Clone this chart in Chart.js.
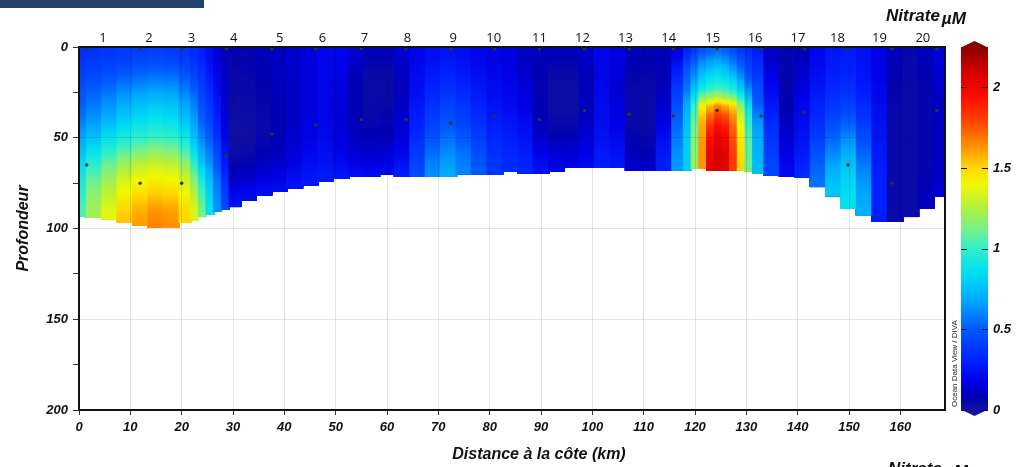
<!DOCTYPE html>
<html lang="fr">
<head>
<meta charset="utf-8">
<title>Nitrate - section côtière</title>
<script src="https://cdn.jsdelivr.net/npm/chart.js@4.4.1/dist/chart.umd.min.js"></script>
<style>
  body { margin: 0; background: #fff; }
  #wrap { position: relative; width: 1025px; height: 467px; overflow: hidden; }
  #myChart { display: block; }
  #topBar { position: absolute; left: 0; top: 0; width: 204px; height: 8px; background: #23416f; }
  .unit { position: absolute; font: italic bold 17px "Liberation Sans", Arial, sans-serif; color: #111; white-space: nowrap; line-height: 20px; }
  .unit span { position: relative; top: 3px; margin-left: 2px; }
</style>
</head>
<body>
<div id="wrap">
  <canvas id="myChart" width="1025" height="467"></canvas>
  <div id="topBar"></div>
  <div class="unit" style="left:886px; top:6px;">Nitrate<span>µM</span></div>
  <div class="unit" style="left:888px; top:459px;">Nitrate<span>µM</span></div>
</div>
<script>
// Stations along the section (numbers on top) and the sampled depths
const stationNames = ['1', '2', '3', '4', '5', '6', '7', '8', '9', '10', '11', '12', '13', '14', '15', '16', '17', '18', '19', '20'];
const stationKm = [1.5, 11.9, 20.0, 28.7, 37.6, 46.1, 55.0, 63.7, 72.4, 81.0, 89.7, 98.5, 107.2, 115.8, 124.3, 132.9, 141.3, 149.8, 158.4, 167.1];
const stationTickKm = [0.5, 9.9, 18.6, 27.3, 36.7, 45.5, 54.1, 62.9, 72.3, 80.6, 90.0, 98.8, 107.6, 116.5, 125.5, 134.2, 143.0, 151.1, 159.7, 168.6];
const surfaceSampleDepth = 1;
const deepSampleDepth = [65, 75, 75, 60, 48, 43, 40, 40, 42, 38, 40, 35, 37, 38, 35, 38, 36, 65, 75, 35];

// Gridded field: one profile every 3 km (1.5 km where it changes fast),
// 5 m cells from the surface down to the sea floor
const columnKm = [0, 3, 6, 9, 12, 15, 18, 21, 22.5, 24, 25.5, 27, 28.5, 30, 33, 36, 39, 42, 45, 48, 51, 54, 57, 60, 63, 66, 69, 72, 75, 78, 81, 84, 87, 90, 93, 96, 99, 102, 105, 108, 111, 114, 117, 118.5, 120, 121.5, 123, 124.5, 126, 127.5, 129, 130.5, 132, 135, 138, 141, 144, 147, 150, 153, 156, 159, 162, 165, 168];
const bottomDepth = [93.5, 94, 94.8, 96.8, 98.3, 99.4, 99.4, 96.8, 95.5, 93.5, 92.2, 90.7, 89.4, 88, 84.3, 81.5, 79.7, 77.8, 76, 73.8, 72.5, 71.4, 71.4, 70, 71.4, 71.4, 71.4, 71.4, 70, 70, 70, 68.3, 69.6, 69.6, 68.3, 66.5, 66.5, 66.5, 66.5, 68, 68, 68, 68, 68, 67, 67, 68, 68, 68, 68, 68, 68.5, 69.6, 70.5, 71.4, 72, 77, 82, 89, 92.6, 96.2, 96, 93.5, 89, 82];
const cellTopDepth = [0, 5, 10, 15, 20, 25, 30, 35, 40, 45, 50, 55, 60, 65, 70, 75, 80, 85, 90, 95];
const nitrateProfiles = [
  [0.35, 0.37, 0.4, 0.43, 0.46, 0.49, 0.52, 0.55, 0.6, 0.65, 0.7, 0.76, 0.82, 0.88, 0.93, 0.97, 1.0, 1.03, 1.05],
  [0.36, 0.39, 0.42, 0.46, 0.5, 0.54, 0.58, 0.62, 0.67, 0.73, 0.8, 0.88, 0.95, 1.02, 1.08, 1.13, 1.17, 1.2, 1.22],
  [0.37, 0.4, 0.44, 0.49, 0.54, 0.59, 0.64, 0.69, 0.75, 0.82, 0.9, 0.98, 1.06, 1.14, 1.2, 1.26, 1.3, 1.34, 1.37],
  [0.39, 0.42, 0.47, 0.53, 0.59, 0.65, 0.71, 0.77, 0.83, 0.9, 0.98, 1.07, 1.16, 1.25, 1.32, 1.38, 1.43, 1.48, 1.52, 1.54],
  [0.4, 0.44, 0.5, 0.56, 0.63, 0.7, 0.76, 0.82, 0.88, 0.95, 1.03, 1.13, 1.23, 1.32, 1.39, 1.44, 1.5, 1.55, 1.59, 1.61],
  [0.41, 0.45, 0.51, 0.58, 0.65, 0.72, 0.79, 0.85, 0.91, 0.98, 1.07, 1.17, 1.27, 1.35, 1.42, 1.48, 1.54, 1.6, 1.64, 1.66],
  [0.4, 0.44, 0.5, 0.57, 0.64, 0.71, 0.77, 0.83, 0.89, 0.96, 1.05, 1.15, 1.25, 1.33, 1.4, 1.46, 1.52, 1.58, 1.62, 1.63],
  [0.37, 0.4, 0.45, 0.51, 0.57, 0.63, 0.69, 0.74, 0.8, 0.87, 0.95, 1.04, 1.14, 1.23, 1.31, 1.37, 1.42, 1.47, 1.5, 1.5],
  [0.33, 0.36, 0.4, 0.45, 0.5, 0.55, 0.6, 0.64, 0.68, 0.73, 0.8, 0.87, 0.96, 1.05, 1.14, 1.22, 1.28, 1.33, 1.35, 1.35],
  [0.3, 0.32, 0.35, 0.38, 0.41, 0.44, 0.47, 0.5, 0.54, 0.58, 0.63, 0.69, 0.76, 0.84, 0.92, 0.99, 1.05, 1.1, 1.12],
  [0.22, 0.24, 0.26, 0.29, 0.32, 0.35, 0.38, 0.41, 0.44, 0.48, 0.52, 0.57, 0.62, 0.68, 0.74, 0.79, 0.83, 0.86, 0.88],
  [0.15, 0.16, 0.18, 0.2, 0.22, 0.24, 0.26, 0.28, 0.31, 0.35, 0.39, 0.43, 0.47, 0.51, 0.55, 0.58, 0.61, 0.63, 0.64],
  [0.1, 0.1, 0.11, 0.12, 0.13, 0.14, 0.15, 0.16, 0.17, 0.19, 0.21, 0.24, 0.27, 0.31, 0.35, 0.39, 0.42, 0.44],
  [0.07, 0.06, 0.05, 0.05, 0.04, 0.04, 0.03, 0.03, 0.02, 0.02, 0.02, 0.03, 0.05, 0.08, 0.12, 0.17, 0.22, 0.25],
  [0.07, 0.06, 0.06, 0.05, 0.05, 0.04, 0.04, 0.03, 0.03, 0.02, 0.03, 0.04, 0.06, 0.09, 0.13, 0.18, 0.22],
  [0.09, 0.08, 0.08, 0.07, 0.07, 0.06, 0.06, 0.05, 0.05, 0.05, 0.06, 0.08, 0.1, 0.13, 0.17, 0.21, 0.24],
  [0.11, 0.1, 0.1, 0.1, 0.09, 0.09, 0.08, 0.08, 0.08, 0.08, 0.09, 0.1, 0.12, 0.15, 0.19, 0.22],
  [0.13, 0.13, 0.13, 0.12, 0.12, 0.12, 0.12, 0.12, 0.12, 0.13, 0.14, 0.15, 0.17, 0.2, 0.23, 0.25],
  [0.16, 0.16, 0.16, 0.16, 0.16, 0.16, 0.16, 0.16, 0.17, 0.18, 0.19, 0.2, 0.22, 0.24, 0.26, 0.27],
  [0.2, 0.2, 0.2, 0.2, 0.2, 0.2, 0.2, 0.2, 0.2, 0.21, 0.22, 0.23, 0.24, 0.26, 0.27],
  [0.2, 0.19, 0.18, 0.17, 0.16, 0.16, 0.15, 0.15, 0.15, 0.16, 0.17, 0.19, 0.21, 0.24, 0.26],
  [0.14, 0.12, 0.1, 0.09, 0.08, 0.08, 0.08, 0.08, 0.09, 0.1, 0.12, 0.14, 0.17, 0.21, 0.24],
  [0.1, 0.07, 0.05, 0.04, 0.04, 0.04, 0.04, 0.05, 0.06, 0.08, 0.1, 0.13, 0.16, 0.2, 0.23],
  [0.1, 0.07, 0.05, 0.04, 0.04, 0.04, 0.05, 0.06, 0.07, 0.09, 0.11, 0.14, 0.17, 0.21],
  [0.15, 0.13, 0.11, 0.1, 0.1, 0.1, 0.11, 0.12, 0.13, 0.15, 0.17, 0.2, 0.23, 0.27, 0.3],
  [0.2, 0.2, 0.21, 0.22, 0.23, 0.24, 0.26, 0.28, 0.3, 0.32, 0.35, 0.38, 0.41, 0.44, 0.46],
  [0.23, 0.24, 0.26, 0.28, 0.3, 0.33, 0.36, 0.39, 0.42, 0.46, 0.5, 0.54, 0.58, 0.61, 0.63],
  [0.25, 0.27, 0.29, 0.32, 0.35, 0.38, 0.42, 0.45, 0.49, 0.53, 0.57, 0.61, 0.65, 0.68, 0.7],
  [0.22, 0.24, 0.26, 0.28, 0.31, 0.34, 0.37, 0.4, 0.43, 0.47, 0.51, 0.55, 0.58, 0.6],
  [0.2, 0.21, 0.22, 0.24, 0.26, 0.28, 0.3, 0.33, 0.36, 0.39, 0.42, 0.45, 0.48, 0.5],
  [0.19, 0.19, 0.2, 0.21, 0.22, 0.23, 0.25, 0.27, 0.29, 0.31, 0.33, 0.35, 0.37, 0.38],
  [0.17, 0.17, 0.18, 0.19, 0.2, 0.21, 0.22, 0.24, 0.26, 0.28, 0.3, 0.32, 0.33, 0.34],
  [0.12, 0.11, 0.12, 0.14, 0.16, 0.17, 0.18, 0.2, 0.22, 0.24, 0.26, 0.28, 0.3, 0.31],
  [0.1, 0.09, 0.08, 0.08, 0.08, 0.08, 0.08, 0.09, 0.1, 0.12, 0.15, 0.18, 0.21, 0.24],
  [0.1, 0.07, 0.05, 0.04, 0.03, 0.03, 0.03, 0.04, 0.05, 0.07, 0.1, 0.13, 0.17, 0.2],
  [0.1, 0.07, 0.05, 0.04, 0.03, 0.03, 0.03, 0.04, 0.05, 0.07, 0.1, 0.13, 0.16, 0.19],
  [0.13, 0.11, 0.1, 0.09, 0.09, 0.09, 0.1, 0.11, 0.12, 0.14, 0.16, 0.18, 0.2, 0.22],
  [0.2, 0.2, 0.2, 0.2, 0.21, 0.21, 0.22, 0.22, 0.23, 0.24, 0.25, 0.27, 0.28, 0.29],
  [0.17, 0.16, 0.15, 0.15, 0.15, 0.15, 0.16, 0.17, 0.18, 0.2, 0.22, 0.24, 0.26, 0.27],
  [0.1, 0.08, 0.07, 0.06, 0.05, 0.05, 0.05, 0.05, 0.05, 0.06, 0.07, 0.09, 0.11, 0.13],
  [0.08, 0.07, 0.06, 0.05, 0.05, 0.04, 0.04, 0.04, 0.04, 0.05, 0.06, 0.08, 0.1, 0.12],
  [0.08, 0.08, 0.08, 0.09, 0.1, 0.11, 0.13, 0.15, 0.18, 0.21, 0.24, 0.26, 0.28, 0.29],
  [0.15, 0.22, 0.28, 0.33, 0.38, 0.42, 0.46, 0.5, 0.53, 0.56, 0.59, 0.62, 0.64, 0.65],
  [0.3, 0.4, 0.48, 0.52, 0.56, 0.63, 0.7, 0.74, 0.76, 0.78, 0.79, 0.8, 0.8, 0.8],
  [0.4, 0.5, 0.58, 0.66, 0.75, 0.88, 1.0, 1.06, 1.1, 1.13, 1.15, 1.17, 1.18, 1.18],
  [0.48, 0.6, 0.7, 0.8, 0.9, 1.12, 1.42, 1.52, 1.58, 1.6, 1.62, 1.63, 1.63, 1.63],
  [0.52, 0.65, 0.76, 0.87, 0.97, 1.2, 1.55, 1.7, 1.82, 1.9, 1.96, 2.0, 2.02, 2.03],
  [0.55, 0.68, 0.8, 0.9, 1.0, 1.25, 1.65, 1.82, 1.93, 2.0, 2.04, 2.07, 2.08, 2.08],
  [0.52, 0.64, 0.75, 0.87, 0.98, 1.2, 1.58, 1.76, 1.88, 1.95, 2.0, 2.03, 2.05, 2.05],
  [0.46, 0.56, 0.66, 0.8, 0.92, 1.12, 1.5, 1.62, 1.7, 1.75, 1.78, 1.8, 1.82, 1.82],
  [0.4, 0.48, 0.55, 0.66, 0.78, 0.95, 1.18, 1.3, 1.38, 1.43, 1.46, 1.48, 1.5, 1.5],
  [0.35, 0.4, 0.43, 0.5, 0.6, 0.72, 0.85, 0.95, 1.0, 1.04, 1.07, 1.08, 1.09, 1.1],
  [0.28, 0.32, 0.35, 0.4, 0.45, 0.48, 0.52, 0.6, 0.65, 0.68, 0.7, 0.72, 0.73, 0.74],
  [0.12, 0.13, 0.15, 0.18, 0.21, 0.24, 0.27, 0.3, 0.33, 0.36, 0.38, 0.4, 0.42, 0.43, 0.44],
  [0.07, 0.06, 0.06, 0.06, 0.06, 0.07, 0.08, 0.09, 0.11, 0.13, 0.15, 0.17, 0.19, 0.21, 0.22],
  [0.08, 0.1, 0.12, 0.14, 0.16, 0.18, 0.2, 0.21, 0.22, 0.24, 0.25, 0.27, 0.29, 0.31, 0.33],
  [0.2, 0.21, 0.22, 0.24, 0.26, 0.28, 0.3, 0.32, 0.35, 0.38, 0.42, 0.46, 0.5, 0.53, 0.55, 0.57],
  [0.26, 0.27, 0.28, 0.3, 0.32, 0.35, 0.38, 0.42, 0.46, 0.5, 0.55, 0.6, 0.65, 0.7, 0.74, 0.77, 0.79],
  [0.28, 0.29, 0.3, 0.32, 0.35, 0.38, 0.42, 0.47, 0.52, 0.58, 0.64, 0.7, 0.75, 0.79, 0.82, 0.84, 0.86, 0.87],
  [0.24, 0.24, 0.25, 0.26, 0.28, 0.3, 0.33, 0.36, 0.4, 0.44, 0.48, 0.52, 0.56, 0.6, 0.63, 0.66, 0.68, 0.7, 0.71],
  [0.18, 0.18, 0.18, 0.19, 0.2, 0.21, 0.22, 0.23, 0.24, 0.25, 0.26, 0.27, 0.28, 0.29, 0.3, 0.3, 0.3, 0.3, 0.29, 0.28],
  [0.1, 0.09, 0.08, 0.07, 0.06, 0.06, 0.05, 0.05, 0.05, 0.05, 0.05, 0.05, 0.05, 0.05, 0.05, 0.05, 0.05, 0.05, 0.05, 0.05],
  [0.06, 0.05, 0.05, 0.05, 0.04, 0.04, 0.04, 0.04, 0.04, 0.04, 0.04, 0.04, 0.04, 0.04, 0.04, 0.04, 0.04, 0.04, 0.04],
  [0.1, 0.09, 0.08, 0.07, 0.06, 0.06, 0.06, 0.06, 0.06, 0.06, 0.06, 0.06, 0.06, 0.06, 0.07, 0.08, 0.09, 0.1],
  [0.16, 0.15, 0.14, 0.13, 0.12, 0.11, 0.1, 0.1, 0.1, 0.1, 0.1, 0.1, 0.1, 0.11, 0.12, 0.13, 0.14]
];

// Axis ticks
const distanceTicks = [0, 10, 20, 30, 40, 50, 60, 70, 80, 90, 100, 110, 120, 130, 140, 150, 160];
const depthTicks = [0, 25, 50, 75, 100, 125, 150, 175, 200];
const colorbarTicks = [0, 0.5, 1, 1.5, 2];

const xMax = 168.7;
const cbMax = 2.25;

// ODV-like palette (value -> colour)
const colorStops = [
  [0.00, '#14149e'], [0.08, '#0000b4'], [0.18, '#0000e6'], [0.30, '#0020ff'],
  [0.50, '#0058ff'], [0.68, '#00a8ff'], [0.86, '#00e0f0'], [1.00, '#30f0c8'],
  [1.12, '#78f088'], [1.25, '#b0f040'], [1.40, '#f0f800'], [1.50, '#ffd800'],
  [1.62, '#ff9800'], [1.78, '#ff4800'], [1.95, '#ff0800'], [2.10, '#d00000'],
  [2.25, '#880000']
];

function hexToRgb(h) {
  return [parseInt(h.slice(1, 3), 16), parseInt(h.slice(3, 5), 16), parseInt(h.slice(5, 7), 16)];
}

function colourFor(v) {
  if (v <= colorStops[0][0]) return colorStops[0][1];
  for (let i = 1; i < colorStops.length; i++) {
    if (v <= colorStops[i][0]) {
      const t = (v - colorStops[i - 1][0]) / (colorStops[i][0] - colorStops[i - 1][0]);
      const a = hexToRgb(colorStops[i - 1][1]);
      const b = hexToRgb(colorStops[i][1]);
      return 'rgb(' + a.map((c, k) => Math.round(c + (b[k] - c) * t)).join(',') + ')';
    }
  }
  return colorStops[colorStops.length - 1][1];
}

// vertical shading of a cell: from the middle of the cell above to the middle of the cell below
function cellFill(context) {
  const d = context.raw;
  if (!d || d.y === null) return 'rgba(0,0,0,0)';
  const prof = nitrateProfiles[d.c];
  const v = prof[d.r];
  const vUp = prof[d.r - 1] ?? v;
  const vDown = prof[d.r + 1] ?? v;
  const top = cellTopDepth[d.r];
  const yScale = context.chart.scales.y;
  const y0 = yScale ? yScale.getPixelForValue(top - 2.5) : NaN;
  const y1 = yScale ? yScale.getPixelForValue(top + 7.5) : NaN;
  if (!isFinite(y0) || !isFinite(y1) || y0 === y1) return colourFor(v);
  const g = context.chart.ctx.createLinearGradient(0, y0, 0, y1);
  for (let k = 0; k <= 8; k++) {
    const t = k / 8;
    const val = t <= 0.5 ? vUp + (v - vUp) * t * 2 : v + (vDown - v) * (t - 0.5) * 2;
    g.addColorStop(t, colourFor(val));
  }
  return g;
}

const boldItalic = { family: 'Liberation Sans', size: 13, style: 'italic', weight: 'bold' };

// one bar dataset per depth row; each cell runs down to the sea floor and the
// deeper rows are drawn over it, so the column ends exactly at the bottom.
// Columns without water at that depth stay in the data as null so the 'flex'
// widths still follow the neighbouring columns. All rows share one stack so
// they sit on top of each other instead of side by side.
const cellDatasets = cellTopDepth.map((top, r) => ({
  type: 'bar',
  stack: 'cells',
  data: columnKm.map((km, c) => {
    const wet = nitrateProfiles[c][r] !== undefined && top < bottomDepth[c];
    return { x: km, y: wet ? [top, bottomDepth[c]] : null, c: c, r: r };
  }),
  backgroundColor: cellFill,
  borderWidth: 0,
  barThickness: 'flex',
  categoryPercentage: 1,
  barPercentage: 1.06,
  order: cellTopDepth.length - r + 1
}));

const sampleDots = stationKm.flatMap((km, i) => [
  { x: km, y: surfaceSampleDepth },
  { x: km, y: deepSampleDepth[i] }
]);

function noPadding(s) {
  s.paddingTop = 0;
  s.paddingBottom = 0;
  s.paddingLeft = 0;
  s.paddingRight = 0;
}

const decorPlugin = {
  id: 'sectionDecor',
  afterDraw(chart) {
    const { ctx, chartArea: a, scales } = chart;
    ctx.save();

    // frame
    ctx.strokeStyle = '#111';
    ctx.lineWidth = 2;
    ctx.strokeRect(a.left, a.top, a.right - a.left, a.bottom - a.top);

    // x title
    ctx.fillStyle = '#111';
    ctx.font = 'italic bold 16px "Liberation Sans"';
    ctx.textAlign = 'center';
    ctx.textBaseline = 'middle';
    ctx.fillText('Distance à la côte (km)', (a.left + a.right) / 2 + 27, chart.height - 12);

    // colour bar
    const cb = scales.cb;
    const x0 = a.right + 16, w = 27;
    const yTop = cb.getPixelForValue(cbMax), yBot = cb.getPixelForValue(0);
    const grad = ctx.createLinearGradient(0, yBot, 0, yTop);
    colorStops.forEach(s => grad.addColorStop(s[0] / cbMax, s[1]));
    ctx.fillStyle = grad;
    ctx.fillRect(x0, yTop, w, yBot - yTop);
    ctx.fillStyle = colorStops[colorStops.length - 1][1];
    ctx.beginPath();
    ctx.moveTo(x0, yTop + 0.5); ctx.lineTo(x0 + w / 2, yTop - 6); ctx.lineTo(x0 + w, yTop + 0.5);
    ctx.fill();
    ctx.fillStyle = colorStops[0][1];
    ctx.beginPath();
    ctx.moveTo(x0, yBot - 0.5); ctx.lineTo(x0 + w / 2, yBot + 6); ctx.lineTo(x0 + w, yBot - 0.5);
    ctx.fill();
    ctx.strokeStyle = '#111';
    ctx.lineWidth = 1;
    colorbarTicks.forEach(v => {
      const y = Math.round(cb.getPixelForValue(v)) + 0.5;
      ctx.beginPath();
      ctx.moveTo(x0, y); ctx.lineTo(x0 + 6, y);
      ctx.moveTo(x0 + w - 6, y); ctx.lineTo(x0 + w, y);
      ctx.stroke();
    });

    // credit
    ctx.translate(a.right + 10, a.bottom - 3);
    ctx.rotate(-Math.PI / 2);
    ctx.fillStyle = '#222';
    ctx.font = '8px "Liberation Sans"';
    ctx.textAlign = 'left';
    ctx.fillText('Ocean Data View / DIVA', 0, 0);
    ctx.restore();
  }
};

new Chart(document.getElementById('myChart'), {
  type: 'bar',
  data: {
    datasets: [
      ...cellDatasets,
      {
        type: 'scatter',
        data: sampleDots,
        pointRadius: 1.7,
        pointBackgroundColor: '#333',
        pointBorderWidth: 0,
        order: 0
      }
    ]
  },
  options: {
    responsive: false,
    animation: false,
    events: [],
    layout: { padding: 0 },
    plugins: {
      legend: { display: false },
      tooltip: { enabled: false }
    },
    scales: {
      x: {
        type: 'linear',
        position: 'bottom',
        min: 0,
        max: xMax,
        offset: false,
        afterFit: s => { s.height = 57; noPadding(s); },
        afterBuildTicks: s => { s.ticks = distanceTicks.map(v => ({ value: v })); },
        grid: { offset: false, z: 1, color: 'rgba(0,0,0,0.11)', tickColor: '#333', tickLength: 5 },
        border: { display: false },
        ticks: { autoSkip: false, maxRotation: 0, padding: 5, color: '#111', font: boldItalic }
      },
      xTop: {
        type: 'linear',
        position: 'top',
        min: 0,
        max: xMax,
        afterFit: s => { s.height = 47; noPadding(s); },
        afterBuildTicks: s => { s.ticks = stationTickKm.map(v => ({ value: v })); },
        grid: { display: false, drawTicks: false },
        border: { display: false },
        ticks: {
          autoSkip: false, maxRotation: 0, padding: 1, color: '#111',
          font: { family: 'Open Sans', size: 13 },
          callback: (v, i) => stationNames[i]
        }
      },
      y: {
        type: 'linear',
        position: 'left',
        reverse: true,
        stacked: false,
        min: 0,
        max: 200,
        afterFit: s => { s.width = 79; noPadding(s); },
        afterBuildTicks: s => { s.ticks = depthTicks.map(v => ({ value: v })); },
        grid: {
          z: 1,
          color: c => c.tick && c.tick.value % 50 === 0 ? 'rgba(0,0,0,0.11)' : 'rgba(0,0,0,0)',
          tickColor: '#333',
          tickLength: 6
        },
        border: { display: false },
        ticks: {
          padding: 5, color: '#111', font: boldItalic,
          callback: v => v % 50 === 0 ? String(v) : ''
        },
        title: {
          display: true,
          text: 'Profondeur',
          color: '#111',
          font: { family: 'Liberation Sans', size: 16, style: 'italic', weight: 'bold' },
          padding: { top: 14, bottom: 0 }
        }
      },
      cb: {
        type: 'linear',
        position: 'right',
        min: 0,
        max: cbMax,
        afterFit: s => { s.width = 80; noPadding(s); },
        afterBuildTicks: s => { s.ticks = colorbarTicks.map(v => ({ value: v })); },
        grid: { display: false, drawTicks: false },
        border: { display: false },
        ticks: { padding: 48, color: '#111', font: boldItalic, callback: v => String(v) }
      }
    }
  },
  plugins: [decorPlugin]
});
</script>
</body>
</html>
